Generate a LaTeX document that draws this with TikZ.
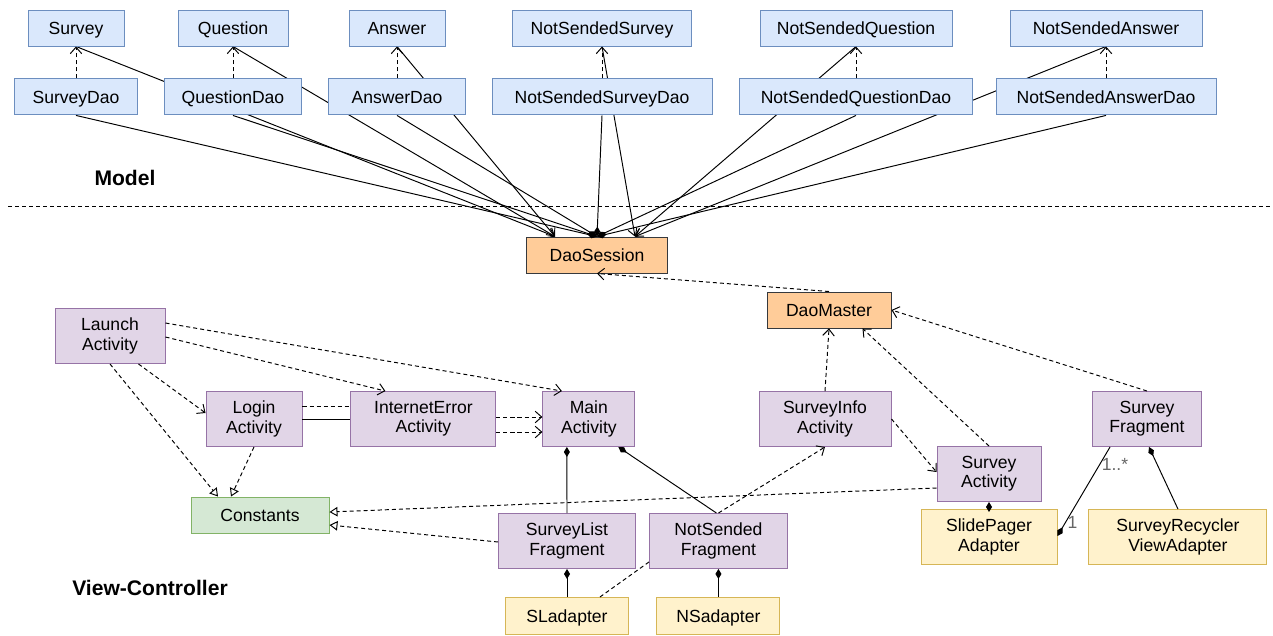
\documentclass[tikz,border=0pt]{standalone}
\usepackage{fontspec}
\setmainfont{Liberation Sans}
\usetikzlibrary{arrows.meta, positioning, calc, backgrounds}

\definecolor{entfill}{HTML}{DAE8FC}
\definecolor{entline}{HTML}{6C8EBF}
\definecolor{ctlfill}{HTML}{E1D5E7}
\definecolor{ctlline}{HTML}{9673A6}
\definecolor{corefill}{HTML}{FFCC99}
\definecolor{coreline}{HTML}{36393D}
\definecolor{cstfill}{HTML}{D5E8D4}
\definecolor{cstline}{HTML}{82B366}
\definecolor{adpfill}{HTML}{FFF2CC}
\definecolor{adpline}{HTML}{D6B656}

\begin{document}
\begin{tikzpicture}[
        x=0.02cm, y=-0.02cm,
        node distance=0.64cm,
        box/.style={rectangle, draw, line width=0.55pt, inner sep=1pt, align=center, font=\fontsize{10}{11}\selectfont, minimum height=0.72cm},
        oneline/.style={text height=7.2pt, text depth=0pt},
        entity/.style={box, oneline, fill=entfill, draw=entline},
        ctrl/.style={box, fill=ctlfill, draw=ctlline, minimum height=1.1cm},
        core/.style={box, oneline, fill=corefill, draw=coreline},
        consts/.style={box, oneline, fill=cstfill, draw=cstline},
        adapter/.style={box, fill=adpfill, draw=adpline},
        layer/.style={font=\fontsize{12}{14}\selectfont\bfseries},
        lbl/.style={font=\fontsize{10}{11}\selectfont, text=black!60, inner sep=1pt},
        edge/.style={line width=0.55pt},
        dashline/.style={edge, dash pattern=on 2.3pt off 1.7pt},
        deparrow/.style={dashline, -{Straight Barb[length=1.3mm, width=2.3mm]}},
        navarrow/.style={edge, -{Straight Barb[length=1.3mm, width=2.3mm]}},
        implarrow/.style={dashline, -{Triangle[open, length=1.6mm, width=1.9mm]}},
        ownline/.style={edge, -{Diamond[length=2mm, width=1.2mm]}}
    ]
        \useasboundingbox (0,0) rectangle (1273,635);

        % model layer
        \node[entity, minimum width=1.92cm] (survey) at (76,28) {Survey};
        \node[entity, minimum width=2.2cm] (question) at (233,28) {Question};
        \node[entity, minimum width=1.92cm] (answer) at (397,28) {Answer};
        \node[entity, minimum width=3.58cm] (nsurvey) at (602,28) {NotSendedSurvey};
        \node[entity, minimum width=3.84cm] (nquestion) at (856,28) {NotSendedQuestion};
        \node[entity, minimum width=3.84cm] (nanswer) at (1106,28) {NotSendedAnswer};

        \node[entity, minimum width=2.46cm, below=of survey] (surveydao) {SurveyDao};
        \node[entity, minimum width=2.74cm, below=of question] (questiondao) {QuestionDao};
        \node[entity, minimum width=2.74cm, below=of answer] (answerdao) {AnswerDao};
        \node[entity, minimum width=4.4cm, below=of nsurvey] (nsurveydao) {NotSendedSurveyDao};
        \node[entity, minimum width=4.66cm, below=of nquestion] (nquestiondao) {NotSendedQuestionDao};
        \node[entity, minimum width=4.4cm, below=of nanswer] (nanswerdao) {NotSendedAnswerDao};

        \node[core, minimum width=2.82cm] (session) at (597,255) {DaoSession};
        \node[core, minimum width=2.48cm] (master) at (829,310) {DaoMaster};

        \node[layer] (model) at (125,178) {Model};
        \coordinate (sepL) at (8,206);
        \coordinate (sepR) at (1273,206);
        \draw[dashline] (sepL) -- (sepR);

        \coordinate (sessL) at ($(session.north)+(-42,0)$);
        \coordinate (sessR) at ($(session.north)+(38,0)$);

        \begin{scope}[on background layer]
            \foreach \e in {survey, question, answer}
                \draw[navarrow] (\e.south) -- (sessL);
            \foreach \e in {nsurvey, nquestion, nanswer}
                \draw[navarrow] (\e.south) -- (sessR);
        \end{scope}
        \foreach \d in {surveydao, questiondao, answerdao, nsurveydao, nquestiondao, nanswerdao}
            \draw[ownline] (\d.south) -- (session.north);
        \draw[deparrow] (surveydao) -- (survey);
        \draw[deparrow] (questiondao) -- (question);
        \draw[deparrow] (answerdao) -- (answer);
        \draw[deparrow] (nsurveydao) -- (nsurvey);
        \draw[deparrow] (nquestiondao) -- (nquestion);
        \draw[deparrow] (nanswerdao) -- (nanswer);

        % view-controller layer
        \node[ctrl, minimum width=2.2cm] (launch) at (110,336) {Launch\\Activity};
        \node[ctrl, minimum width=1.92cm] (login) at (254,419) {Login\\Activity};
        \node[ctrl, minimum width=2.9cm, right=0.96cm of login] (neterr) {InternetError\\Activity};
        \node[ctrl, minimum width=1.84cm, right=0.92cm of neterr] (mainact) {Main\\Activity};
        \node[ctrl, minimum width=2.64cm] (info) at (825,419) {SurveyInfo\\Activity};
        \node[ctrl, minimum width=2.18cm] (sfrag) at (1147,419) {Survey\\Fragment};
        \node[ctrl, minimum width=2.08cm] (sact) at (989,474) {Survey\\Activity};
        \node[consts, minimum width=2.76cm] (cst) at (260,515) {Constants};
        \node[ctrl, minimum width=2.74cm] (slist) at (567,541) {SurveyList\\Fragment};
        \node[ctrl, minimum width=2.76cm, right=0.26cm of slist] (nsfrag) {NotSended\\Fragment};
        \node[adapter, oneline, minimum width=2.46cm, minimum height=0.74cm, below=0.56cm of slist] (sladp) {SLadapter};
        \node[adapter, oneline, minimum width=2.46cm, minimum height=0.74cm, below=0.56cm of nsfrag] (nsadp) {NSadapter};
        \node[adapter, minimum width=2.72cm, minimum height=1.1cm, below=0.14cm of sact] (slide) {SlidePager\\Adapter};
        \node[adapter, minimum width=3.56cm, minimum height=1.1cm, right=0.62cm of slide] (recycler) {SurveyRecycler\\ViewAdapter};

        \node[layer] (viewctl) at (150,588) {View-Controller};

        \draw[deparrow] (master.north) -- (session.south);
        \draw[deparrow] (info.north) -- (master.south);
        \draw[deparrow] (sact.north) -- ($(master.south east)+(-29,0)$);
        \draw[deparrow] (sfrag.north) -- (master.east);
        \draw[deparrow] (info.east) -- ($(sact.west)+(0,-2)$);
        \draw[deparrow] (nsfrag.north) -- (info.south);
        \draw[dashline] ($(sladp.north east)+(-29,0)$) -- ($(nsfrag.south west)+(0,-7)$);

        \draw[implarrow] ($(sact.west)+(0,14)$) -- ($(cst.east)+(0,-3)$);
        \draw[implarrow] ($(slist.west)+(0,1)$) -- ($(cst.east)+(0,10)$);
        \draw[implarrow] (launch.south) -- ($(cst.north)+(-42,0)$);
        \draw[implarrow] (login.south) -- ($(cst.north)+(-29,0)$);

        \draw[deparrow] ($(launch.south east)+(-27,0)$) -- ($(login.west)+(0,-6)$);
        \draw[deparrow] ($(launch.east)+(0,1)$) -- ($(neterr.north)+(-38,0)$);
        \draw[deparrow] ($(launch.east)+(0,-13)$) -- ($(mainact.north)+(-27,0)$);
        \draw[dashline] ($(login.east)+(0,-13)$) -- ($(neterr.west)+(0,-13)$);
        \draw[edge] (login.east) -- (neterr.west);
        \draw[deparrow] ($(neterr.east)+(0,-2)$) -- ($(mainact.west)+(0,-2)$);
        \draw[deparrow] ($(neterr.east)+(0,13)$) -- ($(mainact.west)+(0,13)$);

        \draw[ownline] (slist.north) -- ($(mainact.south)+(-22,0)$);
        \draw[ownline] ($(nsfrag.north)+(-2,0)$) -- ($(mainact.south east)+(-17,0)$);
        \draw[ownline] (sladp) -- (slist);
        \draw[ownline] (nsadp) -- (nsfrag);
        \draw[ownline] (slide) -- (sact);
        \draw[ownline] ($(sfrag.south west)+(18,0)$) -- node[lbl, pos=0.2, right] {1..*} node[lbl, pos=0.85, right] {1} ($(slide.east)+(0,-1)$);
        \draw[ownline] (recycler.north) -- ($(sfrag.south)+(2,0)$);
    \end{tikzpicture}
\end{document}
